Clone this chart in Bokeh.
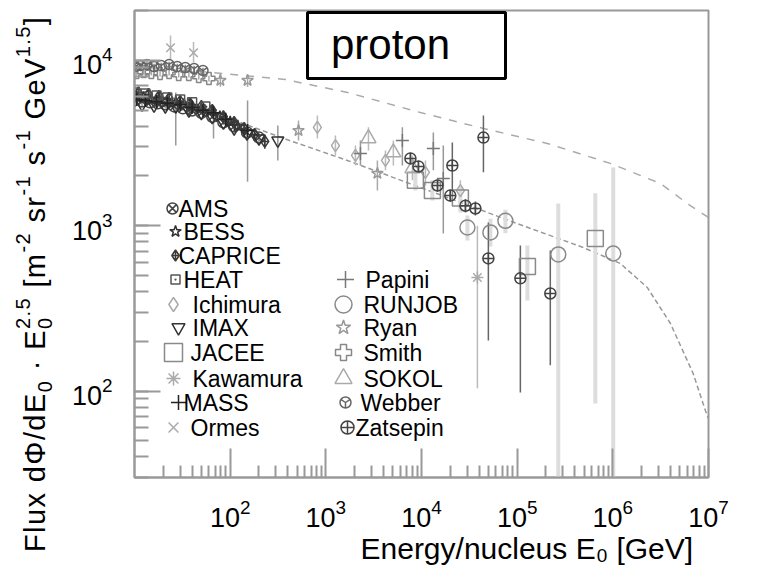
from bokeh.plotting import figure
from bokeh.layouts import row
from bokeh.models import (ColumnDataSource, Range1d, Label, BoxAnnotation, LinearScale,
                          FixedTicker, Title, Div)
from bokeh.embed import file_html
from bokeh.resources import INLINE

# ---------------- data (energy per nucleus in GeV, flux * E^2.5) ----------------
AMS_E = [10, 12, 14.5, 17.5, 21, 26, 32, 40, 50, 65, 85, 110, 150, 200]
AMS_F = [5720, 5640, 5570, 5490, 5410, 5260, 5120, 4970, 4810, 4550, 4210, 3980, 3660, 3410]
AMS_LO = [5550, 5470, 5400, 5330, 5250, 5100, 4970, 4820, 4670, 4410, 4080, 3860, 3550, 3250]
AMS_HI = [5890, 5810, 5740, 5650, 5570, 5420, 5270, 5120, 4950, 4690, 4340, 4100, 3770, 3570]

BESS_E = [10.5, 12.5, 15, 18, 22, 27, 33, 40, 50, 62, 78, 100, 120]
BESS_F = [6040, 5960, 5800, 5800, 5640, 5570, 5410, 5260, 5120, 4910, 4560, 4240, 4000]
BESS_LO = [5860, 5780, 5630, 5630, 5470, 5400, 5250, 5100, 4970, 4760, 4420, 4110, 3800]
BESS_HI = [6220, 6140, 5970, 5970, 5810, 5740, 5570, 5420, 5270, 5060, 4700, 4370, 4200]

CAPRICE_E = [11, 14, 18, 23, 30, 38, 50, 65, 85, 110, 140, 180, 230]
CAPRICE_F = [6380, 6210, 6040, 5880, 5640, 5480, 5260, 4970, 4560, 4210, 3870, 3560, 3230]
CAPRICE_LO = [6120, 5960, 5800, 5640, 5410, 5260, 5050, 4770, 4380, 4000, 3640, 3280, 2910]
CAPRICE_HI = [6640, 6460, 6280, 6120, 5870, 5700, 5470, 5170, 4740, 4420, 4100, 3840, 3550]

HEAT_E = [10, 13, 17, 22, 30, 40, 55]
HEAT_F = [6380, 6300, 6130, 5960, 5800, 5570, 5260]
HEAT_LO = [6190, 6110, 5950, 5780, 5630, 5400, 5100]
HEAT_HI = [6570, 6490, 6310, 6140, 5970, 5740, 5420]

ICHIMURA_E = [816, 1260, 2040, 4200, 11000, 25500]
ICHIMURA_F = [3930, 3050, 2660, 2480, 2100, 1630]
ICHIMURA_LO = [3370, 2660, 2310, 2160, 1750, 1420]
ICHIMURA_HI = [4630, 3510, 3050, 2850, 2480, 1880]

IMAX_E = [12, 16, 21, 27, 37, 50, 65, 85, 110, 150, 200, 315]
IMAX_F = [5410, 5330, 5260, 5260, 4970, 4810, 4550, 4210, 3870, 3610, 3370, 3270]
IMAX_LO = [5250, 5170, 5100, 3050, 4820, 4670, 4410, 4080, 3680, 3390, 3100, 2480]
IMAX_HI = [5570, 5490, 5420, 6380, 5120, 4950, 4690, 4340, 4060, 3830, 3640, 4040]

JACEE_E = [8630, 13000, 25500, 128000, 656000]
JACEE_F = [1880, 1630, 1470, 566, 835]
JACEE_LO = [1630, 1420, 1200, 353, 84]
JACEE_HI = [2160, 1880, 1750, 759, 1570]

KAWAMURA_E = [38400]
KAWAMURA_F = [486]
KAWAMURA_LO = [104]
KAWAMURA_HI = [1000]

MASS_E = [10.5, 13, 17, 22, 30, 40, 52, 67, 90, 152]
MASS_F = [5800, 5720, 5640, 5490, 5410, 5190, 4970, 4810, 4400, 3760]
MASS_LO = [5630, 5550, 5470, 5330, 5250, 5030, 4820, 3370, 4180, 1840]
MASS_HI = [5970, 5890, 5810, 5650, 5570, 5350, 5120, 5330, 4620, 5720]

ORMES_E = [23.8, 41.4]
ORMES_F = [11900, 11100]
ORMES_LO = [10100, 9700]
ORMES_HI = [14100, 12900]

PAPINI_E = [2300, 6310, 13300, 16900]
PAPINI_F = [2730, 3270, 2930, 1930]
PAPINI_LO = [2310, 2310, 2160, 897]
PAPINI_HI = [3270, 3930, 3660, 3050]

RUNJOB_E = [30200, 52500, 75300, 269000, 1010000]
RUNJOB_F = [975, 910, 1070, 670, 679]
RUNJOB_LO = [813, 748, 900, 20, 20]
RUNJOB_HI = [1150, 1100, 1250, 1360, 2250]

RYAN_E = [79, 152, 518, 3460]
RYAN_F = [7550, 7550, 3760, 2070]
RYAN_LO = [6920, 6900, 3270, 1630]
RYAN_HI = [8300, 8200, 4330, 2480]

SMITH_E = [10.5, 12.5, 15, 18.5, 23, 29, 37, 47, 60]
SMITH_F = [8430, 8550, 8430, 8310, 8430, 8200, 8200, 7980, 7760]
SMITH_LO = [8090, 8210, 8090, 7980, 8090, 7870, 7870, 7660, 7450]
SMITH_HI = [8770, 8890, 8770, 8640, 8770, 8530, 8530, 8300, 8070]

SOKOL_E = [2790, 5080, 8040]
SOKOL_F = [3370, 2770, 2220]
SOKOL_LO = [2850, 2310, 1880]
SOKOL_HI = [3930, 3270, 2660]

WEBBER_E = [10.2, 11.5, 13.5, 16, 19, 23, 28, 34, 42, 52]
WEBBER_F = [9160, 9300, 9430, 9160, 9300, 9430, 9160, 9030, 8910, 8670]
WEBBER_LO = [8800, 8930, 9050, 8800, 8930, 9050, 8800, 8670, 8550, 8320]
WEBBER_HI = [9520, 9670, 9810, 9520, 9670, 9810, 9520, 9390, 9270, 9020]

ZATSEPIN_E = [7660, 9290, 14700, 20000, 21000, 28800, 36600, 44400, 50000, 108000, 222000]
ZATSEPIN_F = [2550, 2280, 1750, 1520, 2310, 1320, 1270, 3410, 634, 480, 389]
ZATSEPIN_LO = [2350, 2100, 1600, 1390, 1630, 1200, 1150, 2100, 202, 98, 143]
ZATSEPIN_HI = [2760, 2470, 1900, 1650, 3180, 1450, 1400, 4630, 1045, 759, 708]

# model curves
UPPER_E = [10, 49, 378, 1680, 9740, 44400, 207000, 940000, 3130000, 6460000, 10000000]
UPPER_F = [9170, 8550, 7650, 6390, 4830, 3870, 3140, 2380, 1800, 1320, 1120]
LOWER_E = [128, 361, 1680, 9740, 100000, 490000, 1200000, 2290000, 4000000, 6900000, 9300000, 10000000]
LOWER_F = [4210, 3370, 2480, 1700, 1030, 738, 590, 423, 256, 128, 76, 68]

X_TICKS = [100, 1000, 10000, 100000, 1000000, 10000000]
X_TITLE = "Energy/nucleus E\u2080 [GeV]"
# y title pieces: (text, kind) with kind main / sub / sup / stack (sub and sup together)
Y_TITLE_PARTS = [
    ("Flux d\u03a6/dE", "main"),
    ("0", "sub"),
    (" \u00b7 E", "main"),
    (("0", "2.5"), "stack"),
    (" [m", "main"),
    ("-2", "sup"),
    (" sr", "main"),
    ("-1", "sup"),
    (" s", "main"),
    ("-1", "sup"),
    (" GeV", "main"),
    ("1.5", "sup"),
    ("]", "main"),
]

EXPERIMENTS = [
    ("AMS", AMS_E, AMS_F, AMS_LO, AMS_HI),
    ("BESS", BESS_E, BESS_F, BESS_LO, BESS_HI),
    ("CAPRICE", CAPRICE_E, CAPRICE_F, CAPRICE_LO, CAPRICE_HI),
    ("HEAT", HEAT_E, HEAT_F, HEAT_LO, HEAT_HI),
    ("Ichimura", ICHIMURA_E, ICHIMURA_F, ICHIMURA_LO, ICHIMURA_HI),
    ("IMAX", IMAX_E, IMAX_F, IMAX_LO, IMAX_HI),
    ("JACEE", JACEE_E, JACEE_F, JACEE_LO, JACEE_HI),
    ("Kawamura", KAWAMURA_E, KAWAMURA_F, KAWAMURA_LO, KAWAMURA_HI),
    ("MASS", MASS_E, MASS_F, MASS_LO, MASS_HI),
    ("Ormes", ORMES_E, ORMES_F, ORMES_LO, ORMES_HI),
    ("Papini", PAPINI_E, PAPINI_F, PAPINI_LO, PAPINI_HI),
    ("RUNJOB", RUNJOB_E, RUNJOB_F, RUNJOB_LO, RUNJOB_HI),
    ("Ryan", RYAN_E, RYAN_F, RYAN_LO, RYAN_HI),
    ("Smith", SMITH_E, SMITH_F, SMITH_LO, SMITH_HI),
    ("SOKOL", SOKOL_E, SOKOL_F, SOKOL_LO, SOKOL_HI),
    ("Webber", WEBBER_E, WEBBER_F, WEBBER_LO, WEBBER_HI),
    ("Zatsepin", ZATSEPIN_E, ZATSEPIN_F, ZATSEPIN_LO, ZATSEPIN_HI),
]

# ---------------- styles ----------------
STYLE = {
    "AMS": dict(marker="circle_x", size=11, lsize=11, color="#444444", bar="#777777", bw=1.5),
    "BESS": dict(marker="star", size=12, lsize=12, color="#333333", bar="#555555", bw=1.5),
    "CAPRICE": dict(marker="diamond_cross", size=12, lsize=11, color="#3a3a3a", bar="#666666", bw=1.5),
    "HEAT": dict(marker="square_dot", size=9, lsize=9, color="#555555", bar="#777777", bw=1.5),
    "Ichimura": dict(marker="diamond", size=12, lsize=14, color="#aaaaaa", bar="#bbbbbb", bw=1.5),
    "IMAX": dict(marker="inverted_triangle", size=12, lsize=13, color="#333333", bar="#999999", bw=1.5),
    "JACEE": dict(marker="square", size=16, lsize=18, color="#8a8a8a", bar="#dddddd", bw=4),
    "Kawamura": dict(marker="asterisk", size=12, lsize=14, color="#aaaaaa", bar="#bbbbbb", bw=1.5),
    "MASS": dict(marker="cross", size=13, lsize=15, color="#222222", bar="#999999", bw=1.5),
    "Ormes": dict(marker="x", size=12, lsize=14, color="#aaaaaa", bar="#bbbbbb", bw=1.5),
    "Papini": dict(marker="cross", size=13, lsize=17, color="#777777", bar="#999999", bw=1.5),
    "RUNJOB": dict(marker="circle", size=15, lsize=17, color="#8a8a8a", bar="#dddddd", bw=4),
    "Ryan": dict(marker="star", size=12, lsize=15, color="#999999", bar="#aaaaaa", bw=1.5),
    "Smith": dict(marker="plus", size=12, lsize=16, color="#888888", bar="#aaaaaa", bw=1.5),
    "SOKOL": dict(marker="triangle", size=15, lsize=17, color="#aaaaaa", bar="#bbbbbb", bw=1.5),
    "Webber": dict(marker="circle_y", size=10, lsize=11, color="#666666", bar="#888888", bw=1.5),
    "Zatsepin": dict(marker="circle_cross", size=11, lsize=13, color="#444444", bar="#666666", bw=1.5),
}

# legend layout (screen pixels measured from the frame's top-left corner)
LEG_ROW_Y = [198, 221, 245, 269, 294, 317, 342, 368, 392, 417]
LEG_COL1_MX = [38, 41, 41, 41, 39, 44, 39, 39, 44, 39]
LEG_COL1_TX = [44, 49, 44, 49, 58, 58, 56, 58, 49, 56]
LEG_COL2_MX = [211, 209, 209, 209, 209, 211, 213]
LEG_COL2_TX = [231, 229, 229, 229, 229, 226, 221]

FONT = "Liberation Sans"
W_TITLE = 60          # width of the strip holding the y title
H = 572
FW, FH = 574, 467     # frame size in pixels

# ---------------- main plot ----------------
p = figure(width=757 - W_TITLE, height=H, x_axis_type="log", y_axis_type="log",
           x_range=Range1d(10, 1e7), y_range=Range1d(30, 2e4),
           output_backend="svg", toolbar_location=None,
           min_border_left=134 - W_TITLE, min_border_right=49, min_border_top=10,
           min_border_bottom=95)
p.extra_x_ranges = {"px": Range1d(0, FW)}
p.extra_y_ranges = {"px": Range1d(FH, 0)}
p.extra_x_scales = {"px": LinearScale()}
p.extra_y_scales = {"px": LinearScale()}
p.grid.visible = False
p.background_fill_color = "white"
p.border_fill_color = "white"
p.outline_line_color = "#999999"
p.outline_line_width = 2

p.xaxis.ticker = FixedTicker(ticks=X_TICKS,
                             minor_ticks=[d * k for d in [10] + X_TICKS[:-1] for k in range(2, 10)])
for ax in (p.xaxis[0], p.yaxis[0]):
    ax.axis_line_color = "#999999"
    ax.axis_line_width = 2
    ax.major_tick_line_color = "#999999"
    ax.minor_tick_line_color = "#999999"
    ax.major_tick_line_width = 2
    ax.minor_tick_line_width = 2
    ax.major_tick_out = 0
    ax.minor_tick_out = 0
    ax.major_label_text_font = FONT
    ax.major_label_text_font_size = "27px"
    ax.major_label_text_color = "black"
p.xaxis.major_tick_in = 29
p.xaxis.minor_tick_in = 12
p.xaxis.major_label_standoff = 21
p.yaxis.major_tick_in = 26
p.yaxis.minor_tick_in = 14
p.yaxis.major_label_standoff = 22

p.add_layout(Title(text=X_TITLE, align="left", offset=226, standoff=0,
                   text_font=FONT, text_font_size="30px", text_font_style="normal",
                   text_color="black"), "below")

# model curves
p.line(UPPER_E, UPPER_F, line_color="#aaaaaa", line_width=1.5, line_dash="8 8")
p.line(LOWER_E, LOWER_F, line_color="#999999", line_width=1.5, line_dash="5 3")

# error bars first, then markers
for name, E, F, LO, HI in EXPERIMENTS:
    st = STYLE[name]
    src = ColumnDataSource(dict(E=E, F=F, lo=LO, hi=HI))
    p.segment(x0="E", y0="lo", x1="E", y1="hi", source=src,
              line_color=st["bar"], line_width=st["bw"])
for name, E, F, LO, HI in EXPERIMENTS:
    st = STYLE[name]
    src = ColumnDataSource(dict(E=E, F=F))
    p.scatter(x="E", y="F", source=src, marker=st["marker"], size=st["size"],
              line_color=st["color"], fill_color=None, line_width=1.5)

# hand-made two-column legend
names = [e[0] for e in EXPERIMENTS]
entries = []
for i, n in enumerate(names[:10]):
    entries.append((n, LEG_COL1_MX[i], LEG_COL1_TX[i], LEG_ROW_Y[i]))
for j, n in enumerate(names[10:]):
    entries.append((n, LEG_COL2_MX[j], LEG_COL2_TX[j], LEG_ROW_Y[j + 3]))
for n, mx, tx, ry in entries:
    st = STYLE[n]
    p.scatter(x=[mx], y=[ry], x_range_name="px", y_range_name="px",
              marker=st["marker"], size=st["lsize"], line_color=st["color"],
              fill_color=None, line_width=1.5)
    p.add_layout(Label(x=tx, y=FH - ry, x_units="screen", y_units="screen", text=n,
                       text_align="left", text_baseline="middle", text_font=FONT,
                       text_font_size="23px", text_color="black"))

# "proton" box
p.add_layout(BoxAnnotation(left=173, right=371, top=465, bottom=399,
                           left_units="screen", right_units="screen",
                           top_units="screen", bottom_units="screen",
                           fill_color="white", fill_alpha=1.0,
                           line_color="black", line_width=3, line_alpha=1.0))
p.add_layout(Label(x=256, y=433, x_units="screen", y_units="screen", text="proton",
                   text_align="center", text_baseline="middle", text_font=FONT,
                   text_font_size="42px", text_color="black"))

# ---------------- y title strip (rotated text with real super/subscripts) ----------------
SCRIPT = "font-size:20px;line-height:0;"
SUB = SCRIPT + "vertical-align:-7px;"
SUP = SCRIPT + "vertical-align:15px;"
html_parts = []
for text, kind in Y_TITLE_PARTS:
    if kind == "main":
        html_parts.append(text)
    elif kind == "sub":
        html_parts.append(f'<span style="{SUB}">{text}</span>')
    elif kind == "sup":
        html_parts.append(f'<span style="{SUP}">{text}</span>')
    else:
        html_parts.append(f'<span style="{SUB}">{text[0]}</span>'
                          f'<span style="{SUP}margin-left:-12.5px;">{text[1]}</span>')
title_html = (
    f'<div style="position:relative;width:{W_TITLE}px;height:{H}px;background:white;">'
    '<div style="position:absolute;left:21px;top:552px;transform-origin:0 0;'
    'transform:rotate(-90deg);white-space:pre;font-family:\'Liberation Sans\',Arial,sans-serif;'
    'font-size:29px;line-height:29px;letter-spacing:1.4px;color:black;">'
    + "".join(html_parts) + '</div></div>')
ytitle = Div(text=title_html, width=W_TITLE, height=H, margin=0)

layout = row(ytitle, p)
open("out.html", "w").write(file_html(layout, INLINE))
